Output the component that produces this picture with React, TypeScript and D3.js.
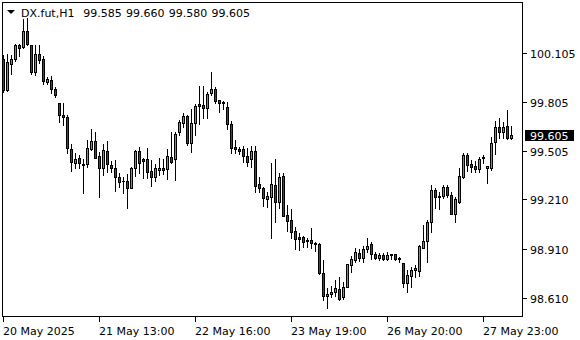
import React from 'react';
import * as d3 from 'd3';

const symbol = 'DX.fut,H1';

const opens = [
  100.067, 99.877, 100.039, 100.065, 100.149, 100.140, 100.237, 100.150, 99.987, 100.097,
  100.064, 99.929, 99.937, 99.882, 99.796, 99.723, 99.710, 99.520, 99.434, 99.462,
  99.426, 99.424, 99.519, 99.566, 99.475, 99.403, 99.505, 99.420, 99.400, 99.345,
  99.322, 99.322, 99.281, 99.403, 99.505, 99.455, 99.455, 99.383, 99.345, 99.389,
  99.400, 99.394, 99.467, 99.455, 99.619, 99.678, 99.719, 99.556, 99.674, 99.792,
  99.786, 99.766, 99.857, 99.883, 99.816, 99.806, 99.772, 99.668, 99.528, 99.517,
  99.517, 99.477, 99.455, 99.505, 99.304, 99.278, 99.211, 99.226, 99.298, 99.196,
  99.353, 99.115, 99.084, 99.017, 98.979, 98.979, 98.960, 98.960, 98.945, 98.938,
  98.763, 98.619, 98.633, 98.643, 98.661, 98.613, 98.677, 98.808, 98.840, 98.881,
  98.854, 98.905, 98.936, 98.875, 98.851, 98.871, 98.844, 98.874, 98.875, 98.854,
  98.820, 98.702, 98.744, 98.776, 98.775, 98.916, 98.958, 99.074, 99.267, 99.231,
  99.233, 99.287, 99.237, 99.119, 99.192, 99.348, 99.481, 99.426, 99.414, 99.394,
  99.461, 99.400, 99.403, 99.558, 99.650, 99.619, 99.658, 99.585,
];
const highs = [
  100.091, 100.097, 100.091, 100.161, 100.161, 100.308, 100.317, 100.152, 100.152, 100.152,
  100.085, 99.957, 99.960, 99.893, 99.798, 99.796, 99.725, 99.548, 99.491, 99.481,
  99.456, 99.572, 99.639, 99.619, 99.501, 99.546, 99.566, 99.446, 99.450, 99.369,
  99.345, 99.365, 99.406, 99.511, 99.531, 99.461, 99.525, 99.450, 99.424, 99.461,
  99.456, 99.516, 99.623, 99.619, 99.694, 99.735, 99.725, 99.760, 99.792, 99.902,
  99.902, 99.863, 99.985, 99.894, 99.816, 99.812, 99.802, 99.688, 99.572, 99.528,
  99.536, 99.522, 99.536, 99.536, 99.347, 99.287, 99.257, 99.430, 99.455, 99.373,
  99.369, 99.176, 99.151, 99.041, 99.003, 98.988, 98.973, 99.034, 98.952, 98.942,
  98.840, 98.668, 98.683, 98.718, 98.735, 98.708, 98.818, 98.866, 98.912, 98.907,
  98.926, 98.973, 98.952, 98.891, 98.881, 98.881, 98.891, 98.877, 98.877, 98.860,
  98.824, 98.779, 98.797, 98.810, 98.932, 99.054, 99.084, 99.298, 99.281, 99.253,
  99.298, 99.298, 99.253, 99.226, 99.400, 99.495, 99.491, 99.450, 99.444, 99.470,
  99.481, 99.414, 99.592, 99.690, 99.705, 99.684, 99.755, 99.660,
];
const lows = [
  99.865, 99.874, 99.975, 100.054, 100.085, 100.134, 100.149, 99.972, 99.969, 100.042,
  99.914, 99.914, 99.862, 99.837, 99.685, 99.664, 99.495, 99.385, 99.400, 99.400,
  99.251, 99.409, 99.511, 99.461, 99.226, 99.359, 99.377, 99.379, 99.263, 99.284,
  99.251, 99.159, 99.278, 99.353, 99.373, 99.342, 99.339, 99.293, 99.324, 99.359,
  99.365, 99.334, 99.434, 99.328, 99.603, 99.650, 99.542, 99.501, 99.603, 99.668,
  99.705, 99.705, 99.847, 99.796, 99.741, 99.761, 99.638, 99.491, 99.491, 99.485,
  99.440, 99.414, 99.409, 99.257, 99.255, 99.171, 99.165, 98.976, 99.074, 99.156,
  99.106, 99.019, 98.974, 98.910, 98.899, 98.919, 98.921, 98.913, 98.892, 98.755,
  98.596, 98.550, 98.616, 98.621, 98.596, 98.602, 98.674, 98.769, 98.830, 98.834,
  98.826, 98.889, 98.846, 98.846, 98.840, 98.840, 98.840, 98.846, 98.840, 98.830,
  98.677, 98.642, 98.677, 98.736, 98.743, 98.915, 98.830, 99.013, 99.156, 99.151,
  99.217, 99.225, 99.118, 99.074, 99.186, 99.339, 99.385, 99.379, 99.375, 99.379,
  99.430, 99.312, 99.389, 99.485, 99.583, 99.586, 99.578, 99.580,
];
const closes = [
  99.877, 100.048, 100.067, 100.150, 100.134, 100.237, 100.156, 99.987, 100.097, 100.060,
  99.935, 99.945, 99.882, 99.844, 99.722, 99.710, 99.522, 99.435, 99.456, 99.430,
  99.417, 99.522, 99.566, 99.464, 99.403, 99.511, 99.424, 99.400, 99.348, 99.318,
  99.320, 99.281, 99.400, 99.505, 99.434, 99.447, 99.375, 99.345, 99.400, 99.400,
  99.391, 99.475, 99.436, 99.609, 99.680, 99.719, 99.556, 99.674, 99.780, 99.782,
  99.766, 99.853, 99.883, 99.812, 99.800, 99.796, 99.668, 99.525, 99.516, 99.507,
  99.477, 99.436, 99.505, 99.293, 99.278, 99.217, 99.231, 99.302, 99.196, 99.347,
  99.110, 99.080, 99.013, 98.970, 98.971, 98.948, 98.953, 98.942, 98.936, 98.763,
  98.621, 98.633, 98.647, 98.668, 98.605, 98.677, 98.814, 98.844, 98.887, 98.854,
  98.905, 98.927, 98.875, 98.851, 98.871, 98.846, 98.871, 98.868, 98.844, 98.846,
  98.702, 98.749, 98.779, 98.790, 98.926, 98.959, 99.074, 99.267, 99.226, 99.225,
  99.284, 99.237, 99.121, 99.212, 99.353, 99.481, 99.420, 99.409, 99.394, 99.456,
  99.470, 99.414, 99.552, 99.653, 99.619, 99.650, 99.583, 99.605,
];

const priceTicks = [100.105, 99.805, 99.505, 99.21, 98.91, 98.61];
const timeLabels = ['20 May 2025', '21 May 13:00', '22 May 16:00', '23 May 19:00', '26 May 20:00', '27 May 23:00'];
const timeLabelIndex = [0, 24, 48, 72, 96, 120];

const BULL = '#00e600';
const BEAR = '#e60000';
const FONT = '"DejaVu Sans", Verdana, sans-serif';

export default function App() {
  const W = 580;
  const H = 340;
  const frameL = 2.5, frameT = 2.5, frameR = 522.5, frameB = 316.5;
  const n = opens.length;

  const x = d3.scaleLinear().domain([0, n - 1]).range([3, 3 + 4 * (n - 1)]);
  const y = d3.scaleLinear().domain([98.61, 100.105]).range([297.7, 52.7]);

  const candles = d3.range(n).map((i) => {
    const c = Math.round(x(i));
    const o = opens[i], cl = closes[i];
    const yHi = Math.round(y(highs[i]));
    const yLo = Math.round(y(lows[i]));
    const bTop = Math.round(y(Math.max(o, cl)));
    const bBot = Math.round(y(Math.min(o, cl)));
    const fill = cl > o ? BULL : cl < o ? BEAR : '#000';
    const h = bBot - bTop;
    return (
      <g key={i}>
        <rect x={c} y={yHi} width={1} height={yLo - yHi + 1} fill="#000" />
        <rect x={c - 1} y={bTop} width={3} height={h + 1} fill="#000" />
        {h >= 2 && <rect x={c} y={bTop + 1} width={1} height={h - 1} fill={fill} />}
      </g>
    );
  });

  const last = n - 1;
  const headerVals = [opens[last], highs[last], lows[last], closes[last]].map((v) => v.toFixed(3));
  const lastY = y(closes[last]);

  return (
    <svg
      width={W}
      height={H}
      viewBox={`0 0 ${W} ${H}`}
      style={{ position: 'absolute', left: 0, top: 0, background: '#fff' }}
      shapeRendering="crispEdges"
    >
      <rect x={0} y={0} width={W} height={H} fill="#fff" />
      <defs>
        <clipPath id="plot">
          <rect x={frameL} y={frameT} width={frameR - frameL} height={frameB - frameT} />
        </clipPath>
      </defs>
      <g clipPath="url(#plot)">{candles}</g>

      {/* frame */}
      <rect x={frameL} y={frameT} width={frameR - frameL} height={frameB - frameT} fill="none" stroke="#000" strokeWidth={1} />

      {/* header */}
      <path d="M7,10 L15,10 L11,14 Z" fill="#000" shapeRendering="auto" />
      <text x={21} y={16.5} fontFamily={FONT} fontSize={11} fill="#000">{symbol}</text>
      {headerVals.map((v, k) => (
        <text key={k} x={83.3 + k * 42.7} y={16.5} fontFamily={FONT} fontSize={11} fill="#000">{v}</text>
      ))}

      {/* price axis */}
      {priceTicks.map((p) => {
        const yy = Math.round(y(p)) + 0.5;
        return (
          <g key={p}>
            <line x1={523} x2={527} y1={yy} y2={yy} stroke="#000" strokeWidth={1} />
            <text x={530} y={yy + 4} fontFamily={FONT} fontSize={11} fill="#000">{p.toFixed(3)}</text>
          </g>
        );
      })}
      <rect x={525} y={Math.round(lastY) - 5} width={49} height={11} fill="#000" />
      <text x={530} y={Math.round(lastY) + 4.5} fontFamily={FONT} fontSize={11} fill="#fff">{closes[last].toFixed(3)}</text>

      {/* time axis */}
      {timeLabelIndex.map((idx, k) => {
        const xx = Math.round(x(idx)) + 0.5;
        return (
          <g key={idx}>
            <line x1={xx} x2={xx} y1={frameB} y2={frameB + 5} stroke="#000" strokeWidth={1} />
            <text x={xx - 0.5} y={334.5} fontFamily={FONT} fontSize={11} fill="#000">{timeLabels[k]}</text>
          </g>
        );
      })}
    </svg>
  );
}
